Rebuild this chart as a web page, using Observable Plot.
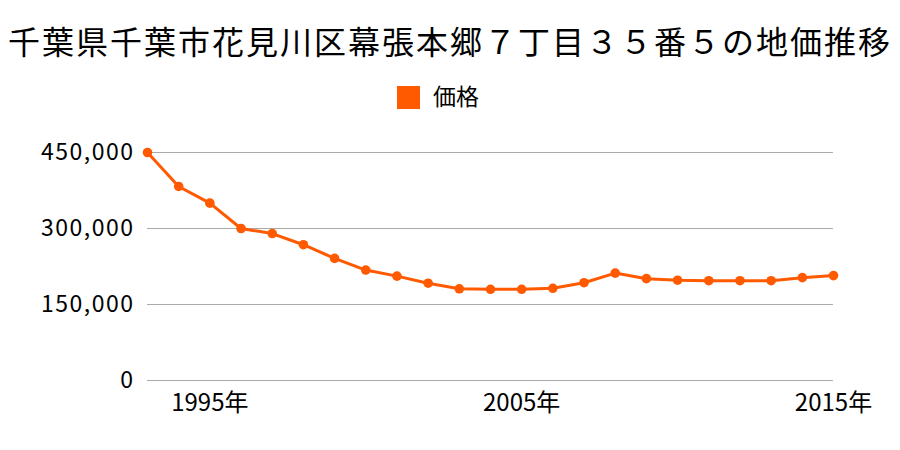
<!DOCTYPE html>
<html>
<head>
<meta charset="utf-8">
<script src="https://cdn.jsdelivr.net/npm/d3@7"></script>
<script src="https://cdn.jsdelivr.net/npm/@observablehq/plot@0.6"></script>
<style>
  body { margin: 0; background: #fff; font-family: "Noto Sans CJK JP", sans-serif; color: #000; }
  #title { position: absolute; top: 16px; left: 0; width: 900px; text-align: center; font-size: 32px; letter-spacing: 2px; line-height: 48px; white-space: nowrap; }
  #legend { position: absolute; top: 82px; left: 397px; font-size: 23px; line-height: 27px; white-space: nowrap; }
  #legend .sw { display: inline-block; width: 23px; height: 23px; background: #ff5a00; vertical-align: -4px; margin-right: 13px; }
  #chart { position: absolute; top: 125px; left: 0; }
  .yax text { letter-spacing: 1.5px; }
</style>
</head>
<body>
<div id="title">千葉県千葉市花見川区幕張本郷７丁目３５番５の地価推移</div>
<div id="legend"><span class="sw"></span>価格</div>
<div id="chart"></div>
<script>
const years = [1993,1994,1995,1996,1997,1998,1999,2000,2001,2002,2003,2004,2005,2006,2007,2008,2009,2010,2011,2012,2013,2014,2015];
const prices = [450000,383000,350000,300000,290000,268000,241000,218000,206000,192000,181000,180000,180000,182000,193000,212000,201000,198000,197000,197000,197000,203000,207000];
const yTicks = [0,150000,300000,450000];
const xTicks = [1995,2005,2015];
const seriesName = "価格";

const data = years.map((y, i) => ({year: y, price: prices[i]}));

const chart = Plot.plot({
  width: 900,
  height: 325,
  marginLeft: 147,
  marginRight: 67,
  marginTop: 27,
  marginBottom: 70,
  style: {fontFamily: "'Noto Sans CJK JP', sans-serif", fontSize: "23px", color: "#000", background: "#fff"},
  x: {domain: [1993, 2015], label: null},
  y: {domain: [0, 450000], label: null},
  marks: [
    Plot.ruleY(yTicks, {stroke: "#aaa", strokeWidth: 1}),
    Plot.axisY({ticks: yTicks, tickSize: 0, tickPadding: 13, tickFormat: d3.format(","), label: null, fontSize: 23, className: "yax"}),
    Plot.axisX({ticks: xTicks, tickSize: 0, tickPadding: 13, tickFormat: d => d + "年", label: null, fontSize: 24}),
    Plot.line(data, {x: "year", y: "price", stroke: "#ff5a00", strokeWidth: 3}),
    Plot.dot(data, {x: "year", y: "price", fill: "#ff5a00", r: 4.8})
  ]
});
document.getElementById("chart").appendChild(chart);
</script>
</body>
</html>
